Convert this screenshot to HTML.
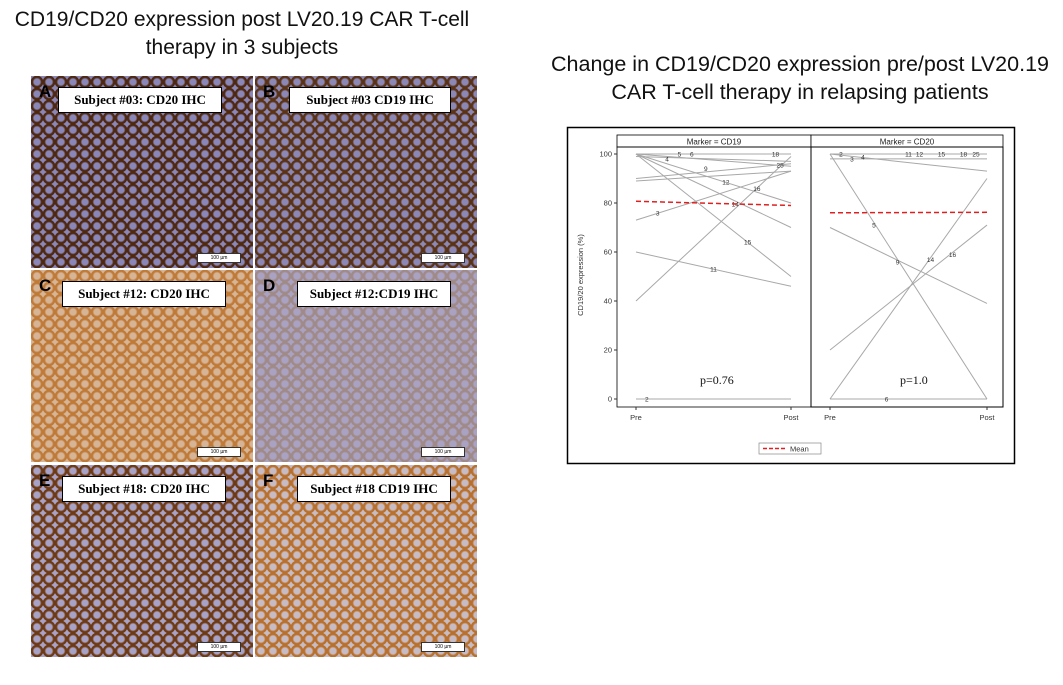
<!DOCTYPE html>
<html><head><meta charset="utf-8"><style>
body{margin:0;width:1063px;height:685px;background:#fff;position:relative;overflow:hidden;font-family:"Liberation Sans",sans-serif}
.t{position:absolute;text-align:center;font-size:21px;color:#111;line-height:28px;white-space:nowrap}
.p{position:absolute;width:222px;height:192px;overflow:hidden}
.lab{position:absolute;background:#fff;border:1px solid #000;font-family:"Liberation Serif",serif;font-weight:bold;font-size:13px;text-align:center;line-height:24px;height:24px}
.let{position:absolute;left:8px;top:6px;font-size:17px;font-weight:bold;color:#000}
.sb{position:absolute;right:12px;bottom:5px;width:42px;height:8px;background:#fff;border:1px solid #333;font-size:5px;text-align:center;line-height:8px}
</style></head><body>
<div class="t" style="left:0;top:6px;width:484px">CD19/CD20 expression post LV20.19 CAR T-cell<br>therapy in 3 subjects</div>
<div class="t" style="left:540px;top:50px;width:520px;font-size:21.5px">Change in CD19/CD20 expression pre/post LV20.19<br>CAR T-cell therapy in relapsing patients</div>

<div id="panels"></div>

<svg id="chart" style="position:absolute;left:0;top:0" width="1063" height="685"></svg>

<script>
const panelDefs=[
 ["A","Subject #03: CD20 IHC",31,76,"#4e2810","#8a86b8","#7a5034",58,162],
 ["B","Subject #03 CD19 IHC",255,76,"#5a3216","#8c88b6","#86603e",289,160],
 ["C","Subject #12: CD20 IHC",31,270,"#c07a38","#d6b496","#dcaa74",62,162],
 ["D","Subject #12:CD19 IHC",255,270,"#a08a88","#aaa2c2","#c4b4b4",297,152],
 ["E","Subject #18: CD20 IHC",31,465,"#6e3a14","#a8a2c6","#a8744a",62,162],
 ["F","Subject #18 CD19 IHC",255,465,"#b8702c","#c8bcc4","#dcae7c",297,152]];
const pc=document.getElementById('panels');
panelDefs.forEach(d=>{
 const p=document.createElement('div');p.className='p';
 
 
 p.style.left=d[2]+'px';p.style.top=d[3]+'px';
 p.style.background=`radial-gradient(circle at 50% 50%, ${d[5]} 0 3px, ${d[4]} 4.5px 6px, transparent 6.5px) 0 0/12px 12px, radial-gradient(circle at 50% 50%, ${d[5]} 0 3px, ${d[4]} 4.5px 6px, transparent 6.5px) 6px 6px/12px 12px, ${d[6]}`;
 p.innerHTML=`<div class="let">${d[0]}</div><div class="sb">100 µm</div>`;
 pc.appendChild(p);
 const l=document.createElement('div');l.className='lab';
 
 
 l.style.left=d[7]+'px';l.style.top=(d[3]+11)+'px';l.style.width=d[8]+'px';
 l.textContent=d[1];pc.appendChild(l);
});

// chart data
const categories=["Pre","Post"];
const yTicks=[0,20,40,60,80,100];
const cd19Ids=["5","4","12","14","15","25","9","18","3","16","11","2"];
const cd19Pre=[100,100,100,100,100,99,90,89,73,40,60,0];
const cd19Post=[100,95,80,70,50,97,96,93,93,99,46,0];
const cd20Ids=["2","3","4","5","9","14","16","6"];
const cd20Pre=[100,98,100,100,70,0,20,0];
const cd20Post=[100,98,93,0,39,90,71,0];
const meanCD19=[80.7,79];
const meanCD20=[76,76.2];
const pValues=["p=0.76","p=1.0"];
const labels19=[["5",0.28,100],["6",0.36,100],["18",0.9,100],["4",0.2,98],["9",0.45,94],["12",0.58,88.5],["25",0.93,95.5],["16",0.78,86],["14",0.64,79.5],["3",0.14,76],["15",0.72,64],["11",0.5,53],["2",0.07,0]];
const labels20=[["2",0.07,100],["11",0.5,100],["12",0.57,100],["15",0.71,100],["18",0.85,100],["25",0.93,100],["3",0.14,98],["4",0.21,98.8],["5",0.28,71],["9",0.43,56],["14",0.64,57],["16",0.78,59],["6",0.36,0]];

const svg=document.getElementById('chart');const NS='http://www.w3.org/2000/svg';
function el(tag,attrs,name,txt){const e=document.createElementNS(NS,tag);for(const k in attrs)e.setAttribute(k,attrs[k]);
 
 
 if(txt!==undefined)e.textContent=txt;svg.appendChild(e);return e;}
const y=v=>399-v*2.45;
el('rect',{x:567.5,y:127.5,width:447,height:336,fill:'#fff',stroke:'#000','stroke-width':1.5},'chart-frame');
const panels=[{x0:617,x1:811,pre:636,post:791,name:'CD19',ids:cd19Ids,pr:cd19Pre,po:cd19Post,m:meanCD19,lab:labels19,p:pValues[0],px:700},
 {x0:811,x1:1003,pre:830,post:987,name:'CD20',ids:cd20Ids,pr:cd20Pre,po:cd20Post,m:meanCD20,lab:labels20,p:pValues[1],px:900}];
panels.forEach((P,i)=>{
 el('rect',{x:P.x0,y:135,width:P.x1-P.x0,height:12,fill:'#fff',stroke:'#000','stroke-width':0.8},'panel-header-'+P.name.toLowerCase());
 el('text',{x:(P.x0+P.x1)/2,y:144.5,'font-size':8,'text-anchor':'middle',fill:'#222'},'panel-header-text',"Marker = "+P.name);
 el('rect',{x:P.x0,y:147,width:P.x1-P.x0,height:260,fill:'none',stroke:'#000','stroke-width':i==0?0.8:1},'panel-plot-'+P.name.toLowerCase());
 P.pr.forEach((v,j)=>el('line',{x1:P.pre,y1:y(v),x2:P.post,y2:y(P.po[j]),stroke:'#a8a8a8','stroke-width':1},'subject-line-'+P.ids[j]));
 P.lab.forEach(L=>el('text',{x:P.pre+(P.post-P.pre)*L[1],y:y(L[2])+2.5,'font-size':6.5,'text-anchor':'middle',fill:'#333'},'subject-label',L[0]));
 el('line',{x1:P.pre,y1:y(P.m[0]),x2:P.post,y2:y(P.m[1]),stroke:'#e02020','stroke-width':1.5,'stroke-dasharray':'5,3'},'mean-line-'+P.name.toLowerCase());
 el('text',{x:P.px,y:384,'font-size':12,'font-family':'Liberation Serif',fill:'#111'},'p-value',P.p);
 categories.forEach((c,k)=>{const xx=k?P.post:P.pre;
  el('line',{x1:xx,y1:407,x2:xx,y2:410,stroke:'#333'},'x-tick');
  el('text',{x:xx,y:420,'font-size':7.5,'text-anchor':'middle',fill:'#333'},'x-tick-label',c);});
});
yTicks.forEach(t=>{el('line',{x1:614,y1:y(t),x2:617,y2:y(t),stroke:'#333'},'y-tick');
 el('text',{x:612,y:y(t)+2.5,'font-size':7.5,'text-anchor':'end',fill:'#333'},'y-tick-label',t);});
el('text',{x:583,y:275,'font-size':7.5,'text-anchor':'middle',fill:'#333',transform:'rotate(-90 583 275)'},'y-axis-title','CD19/20 expression (%)');
el('rect',{x:759,y:443,width:62,height:11,fill:'#fff',stroke:'#888','stroke-width':0.7},'legend-box');
el('line',{x1:763,y1:448.5,x2:785,y2:448.5,stroke:'#e02020','stroke-width':1.5,'stroke-dasharray':'4,2'},'legend-swatch');
el('text',{x:790,y:451.5,'font-size':7.5,fill:'#333'},'legend-entry','Mean');
</script>
</body></html>
